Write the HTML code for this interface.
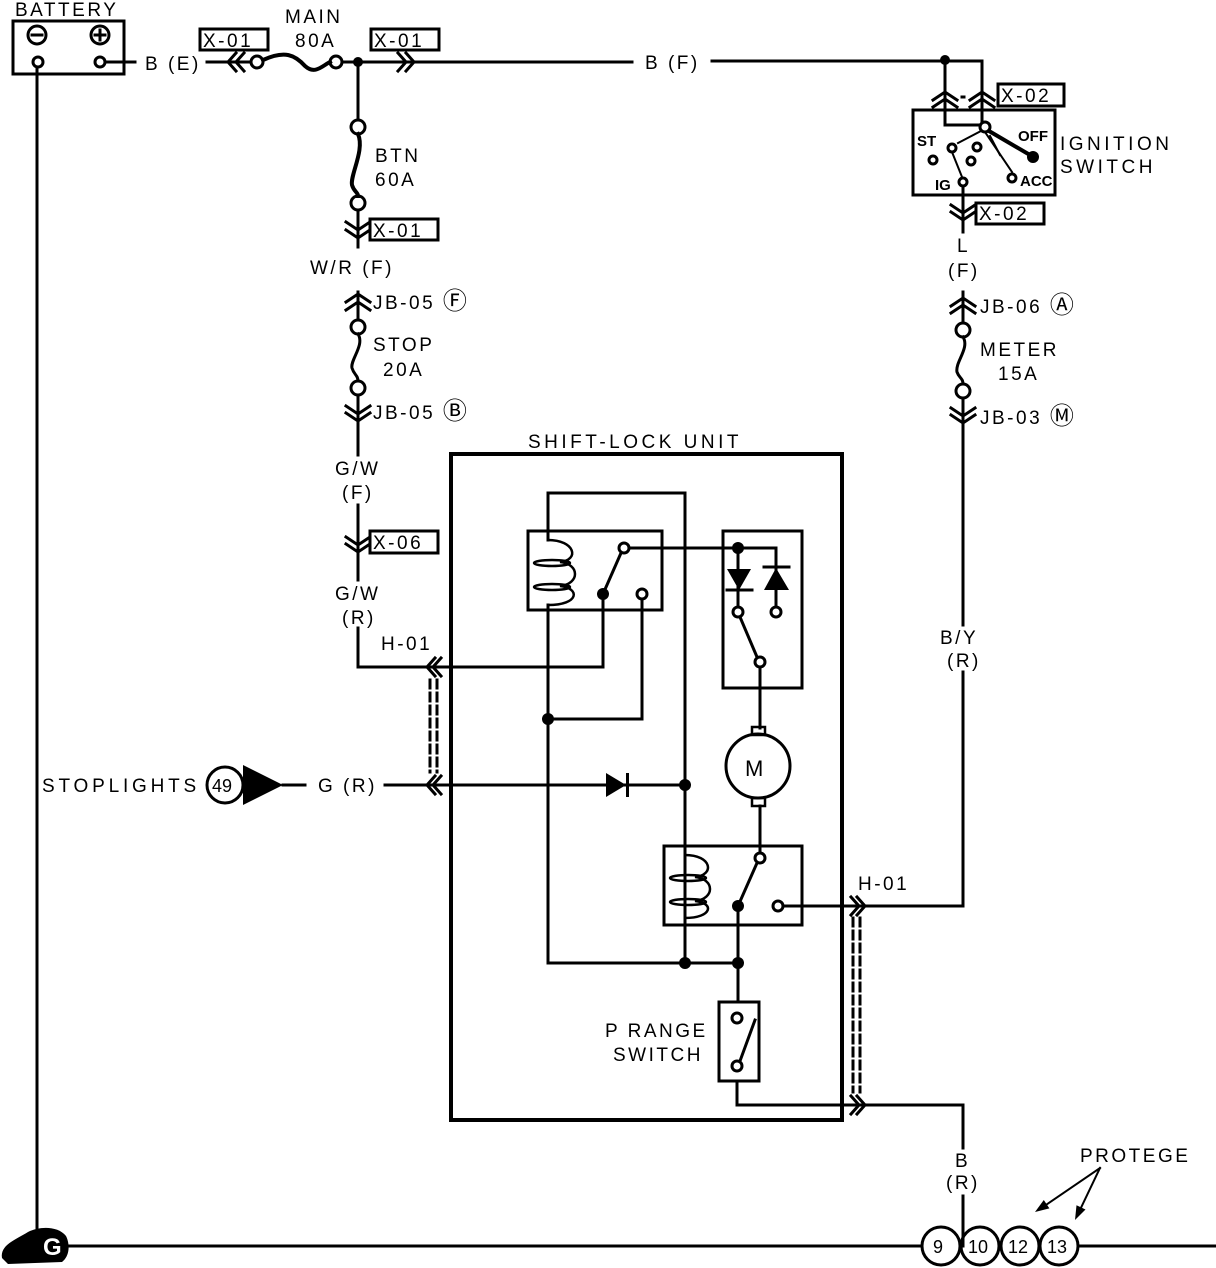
<!DOCTYPE html>
<html><head><meta charset="utf-8"><style>
html,body{margin:0;padding:0;background:#fff}
svg{display:block}
text{font-family:"Liberation Sans",sans-serif;font-size:19px;fill:#000;letter-spacing:2.5px}
.c{font-size:24px;letter-spacing:0}
</style></head><body>
<svg width="1216" height="1268" viewBox="0 0 1216 1268" xmlns="http://www.w3.org/2000/svg">
<g stroke="#000" stroke-width="3" fill="none" stroke-linecap="square">
<rect x="13" y="21" width="111" height="53"/>
<circle cx="37" cy="35" r="9"/><line x1="32" y1="35" x2="42" y2="35"/>
<circle cx="100" cy="35" r="9"/><line x1="95" y1="35" x2="105" y2="35"/><line x1="100" y1="30" x2="100" y2="40"/>
<circle cx="38" cy="62" r="5"/><circle cx="100" cy="62" r="5"/>
<line x1="37" y1="67" x2="37" y2="1240"/>
<line x1="105" y1="62" x2="135" y2="62"/>
<line x1="207" y1="62" x2="251" y2="62"/>
<path d="M236 53 L228 62 L236 71 M244 53 L236 62 L244 71"/>
<circle cx="257" cy="62" r="6"/>
<path d="M263 60 C285 50,295 55,305 66 C315 75,322 66,330 62" stroke-width="4"/>
<circle cx="336" cy="62" r="6"/>
<line x1="342" y1="62" x2="632" y2="62"/>
<path d="M398 53 L406 62 L398 71 M406 53 L414 62 L406 71"/>
<line x1="712" y1="61" x2="945" y2="61"/>
<line x1="358" y1="62" x2="358" y2="120"/>
<circle cx="358" cy="127" r="7"/>
<path d="M358 134 C365 150,350 175,352 185 C354 192,358 192,358 196" stroke-width="4"/>
<circle cx="358" cy="203" r="7"/>
<line x1="358" y1="210" x2="358" y2="247"/>
<path d="M346 222 L358 230 L370 222 M346 230 L358 238 L370 230"/>
<line x1="358" y1="292" x2="358" y2="320"/>
<path d="M346 302 L358 294 L370 302 M346 310 L358 302 L370 310"/>
<circle cx="358" cy="327" r="7"/>
<path d="M358 334 C365 345,350 360,352 368 C354 375,358 375,358 381" stroke-width="3"/>
<circle cx="358" cy="388" r="7"/>
<line x1="358" y1="395" x2="358" y2="455"/>
<path d="M346 406 L358 414 L370 406 M346 413 L358 421 L370 413"/>
<line x1="358" y1="505" x2="358" y2="580"/>
<path d="M346 537 L358 545 L370 537 M346 544 L358 552 L370 544"/>
<line x1="358" y1="628" x2="358" y2="667"/>
<line x1="358" y1="667" x2="603" y2="667"/>
<path d="M435 658 L427 667 L435 676 M441 658 L433 667 L441 676"/>
<line x1="603" y1="667" x2="603" y2="594"/>
<line x1="430" y1="680" x2="430" y2="772" stroke-dasharray="8,5"/>
<line x1="437" y1="680" x2="437" y2="772" stroke-dasharray="8,5"/>
<circle cx="225" cy="785" r="18"/>
<line x1="283" y1="785" x2="305" y2="785"/>
<line x1="385" y1="785" x2="685" y2="785"/>
<path d="M435 776 L427 785 L435 794 M441 776 L433 785 L441 794"/>
<rect x="451" y="454" width="391" height="666" stroke-width="4"/>
<rect x="528" y="531" width="134" height="79"/>
<polyline points="548,540 548,493 685,493 685,963"/>
<path d="M548 540 C575 540,580 560,560 562 C580 564,580 584,560 586 C580 588,580 605,548 605" stroke-width="2.5"/>
<ellipse cx="552" cy="563" rx="18" ry="3" stroke-width="2.5"/>
<ellipse cx="552" cy="587" rx="18" ry="3" stroke-width="2.5"/>
<line x1="548" y1="605" x2="548" y2="963"/>
<line x1="603" y1="594" x2="621" y2="553"/>
<circle cx="624" cy="548" r="5"/>
<circle cx="642" cy="594" r="5"/>
<polyline points="642,599 642,719 548,719"/>
<line x1="629" y1="548" x2="776" y2="548"/>
<rect x="723" y="531" width="79" height="157"/>
<line x1="738" y1="548" x2="738" y2="606"/>
<line x1="776" y1="548" x2="776" y2="606"/>
<circle cx="738" cy="612" r="5"/><circle cx="776" cy="612" r="5"/>
<line x1="740" y1="617" x2="757" y2="657"/>
<circle cx="760" cy="662" r="5"/>
<line x1="760" y1="667" x2="760" y2="728"/>
<line x1="727" y1="590" x2="752" y2="590"/>
<line x1="764" y1="567" x2="789" y2="567"/>
<circle cx="758" cy="766" r="32"/>
<rect x="752" y="727" width="13" height="8" stroke-width="2.5"/>
<rect x="752" y="798" width="13" height="8" stroke-width="2.5"/>
<line x1="760" y1="806" x2="760" y2="853"/>
<rect x="664" y="846" width="138" height="79"/>
<path d="M685 855 C712 855,715 875,695 877 C715 879,715 899,695 901 C715 903,712 918,685 918" stroke-width="2.5"/>
<ellipse cx="688" cy="878" rx="18" ry="3" stroke-width="2.5"/>
<ellipse cx="688" cy="902" rx="18" ry="3" stroke-width="2.5"/>
<line x1="685" y1="918" x2="685" y2="963"/>
<circle cx="760" cy="858" r="5"/>
<line x1="738" y1="906" x2="757" y2="863"/>
<circle cx="778" cy="906" r="5"/>
<line x1="783" y1="906" x2="963" y2="906"/>
<path d="M857 897 L865 906 L857 915 M851 897 L859 906 L851 915"/>
<line x1="548" y1="963" x2="738" y2="963"/>
<line x1="738" y1="906" x2="738" y2="1002"/>
<rect x="719" y="1002" width="40" height="79"/>
<circle cx="737" cy="1018" r="5"/><circle cx="737" cy="1066" r="5"/>
<line x1="740" y1="1061" x2="755" y2="1020"/>
<polyline points="737,1081 737,1105 963,1105 963,1148"/>
<path d="M857 1096 L865 1105 L857 1114 M851 1096 L859 1105 L851 1114"/>
<line x1="853" y1="918" x2="853" y2="1092" stroke-dasharray="8,5"/>
<line x1="860" y1="918" x2="860" y2="1092" stroke-dasharray="8,5"/>
<polyline points="945,61 982,61 982,125"/>
<polyline points="945,61 945,125 980,125"/>
<path d="M933 100 L945 92 L957 100 M933 107 L945 99 L957 107"/>
<path d="M970 100 L982 92 L994 100 M970 107 L982 99 L994 107"/>
<line x1="962" y1="97" x2="966" y2="97" stroke-dasharray="2,2"/>
<rect x="913" y="110" width="142" height="85"/>
<circle cx="985" cy="127" r="5" fill="#fff"/>
<line x1="989" y1="131" x2="1030" y2="155" stroke-width="4"/>
<line x1="981" y1="131" x2="958" y2="143" stroke-width="2"/>
<line x1="985" y1="132" x2="1012" y2="172" stroke-width="2"/>
<line x1="990" y1="136" x2="1000" y2="155" stroke-width="2"/>
<circle cx="952" cy="148" r="4"/><circle cx="933" cy="160" r="4"/>
<circle cx="971" cy="161" r="4"/><circle cx="977" cy="147" r="4"/>
<circle cx="1012" cy="178" r="4"/><circle cx="963" cy="182" r="4"/>
<line x1="952" y1="152" x2="962" y2="177" stroke-width="2"/>
<line x1="963" y1="186" x2="963" y2="232"/>
<path d="M951 205 L963 213 L975 205 M951 212 L963 220 L975 212"/>
<line x1="963" y1="292" x2="963" y2="323"/>
<path d="M951 306 L963 298 L975 306 M951 313 L963 305 L975 313"/>
<circle cx="963" cy="330" r="7"/>
<path d="M963 337 C970 348,955 362,957 372 C959 378,963 378,963 384" stroke-width="3"/>
<circle cx="963" cy="391" r="7"/>
<line x1="963" y1="398" x2="963" y2="625"/>
<path d="M951 408 L963 416 L975 408 M951 415 L963 423 L975 415"/>
<line x1="963" y1="672" x2="963" y2="906"/>
<line x1="963" y1="1196" x2="963" y2="1246"/>
<line x1="55" y1="1246" x2="922" y2="1246"/>
<line x1="1078" y1="1246" x2="1216" y2="1246"/>
<circle cx="941" cy="1246" r="19"/><circle cx="980" cy="1246" r="19"/>
<circle cx="1020" cy="1246" r="19"/><circle cx="1059" cy="1246" r="19"/>
<line x1="1100" y1="1168" x2="1040" y2="1209" stroke-width="2"/>
<line x1="1100" y1="1168" x2="1078" y2="1214" stroke-width="2"/>
</g>
<g stroke="#000" stroke-width="3" fill="#fff">
<rect x="200" y="29" width="68" height="21"/><rect x="371" y="29" width="68" height="21"/>
<rect x="370" y="219" width="68" height="21"/><rect x="370" y="531" width="68" height="22"/>
<rect x="998" y="84" width="66" height="22"/><rect x="976" y="203" width="68" height="21"/>
</g>
<g fill="#000">
<circle cx="358" cy="62" r="5"/><circle cx="945" cy="60" r="5"/>
<circle cx="603" cy="594" r="6"/><circle cx="548" cy="719" r="6"/>
<circle cx="685" cy="785" r="6"/><circle cx="738" cy="548" r="6"/>
<circle cx="738" cy="906" r="6"/><circle cx="685" cy="963" r="6"/><circle cx="738" cy="963" r="6"/>
<circle cx="1033" cy="157" r="6"/>
<polygon points="243,765 243,805 283,785"/>
<polygon points="606,773 606,797 626,785"/><rect x="626" y="773" width="3" height="24"/>
<polygon points="727,569 751,569 739,590"/>
<polygon points="764,590 789,590 776,568"/>
<polygon points="1035,1212 1049.4,1208.4 1043.8,1200"/>
<polygon points="1075,1220 1085.5,1209.5 1076.5,1205.3"/>
<path d="M2 1258 C0 1245,15 1240,28 1232 C40 1226,58 1226,66 1236 C70 1244,70 1256,62 1262 L8 1264 Z"/>
</g>
<text x="43" y="1255" style="fill:#fff;font-size:24px;font-weight:bold;letter-spacing:0">G</text>
<text x="15" y="16">BATTERY</text>
<text x="145" y="70">B (E)</text>
<text x="285" y="23">MAIN</text>
<text x="295" y="47">80A</text>
<text x="203" y="47">X-01</text><text x="374" y="47">X-01</text>
<text x="645" y="69">B (F)</text>
<text x="375" y="162">BTN</text><text x="375" y="186">60A</text>
<text x="373" y="237">X-01</text>
<text x="310" y="274">W/R (F)</text>
<text x="373" y="309">JB-05 <tspan class="c">Ⓕ</tspan></text>
<text x="373" y="351">STOP</text><text x="383" y="376">20A</text>
<text x="373" y="419">JB-05 <tspan class="c">Ⓑ</tspan></text>
<text x="335" y="475">G/W</text><text x="342" y="499">(F)</text>
<text x="373" y="549">X-06</text>
<text x="335" y="600">G/W</text><text x="342" y="624">(R)</text>
<text x="381" y="650">H-01</text>
<text x="42" y="792" style="letter-spacing:3.8px">STOPLIGHTS</text>
<text x="212" y="792" style="font-size:18px;letter-spacing:0">49</text>
<text x="318" y="792">G (R)</text>
<text x="528" y="448" style="letter-spacing:3.5px">SHIFT-LOCK UNIT</text>
<text x="745" y="776" style="font-size:22px;letter-spacing:0">M</text>
<text x="858" y="890">H-01</text>
<text x="605" y="1037">P RANGE</text><text x="613" y="1061">SWITCH</text>
<text x="917" y="146" style="font-size:15px;font-weight:bold;letter-spacing:0">ST</text>
<text x="1018" y="141" style="font-size:15px;font-weight:bold;letter-spacing:0">OFF</text>
<text x="935" y="190" style="font-size:15px;font-weight:bold;letter-spacing:0">IG</text>
<text x="1020" y="186" style="font-size:15px;font-weight:bold;letter-spacing:0">ACC</text>
<text x="1001" y="102">X-02</text><text x="979" y="220">X-02</text>
<text x="1060" y="150" style="letter-spacing:3.5px">IGNITION</text><text x="1060" y="173" style="letter-spacing:3.5px">SWITCH</text>
<text x="957" y="252">L</text><text x="948" y="277">(F)</text>
<text x="980" y="313">JB-06 <tspan class="c">Ⓐ</tspan></text>
<text x="980" y="356">METER</text><text x="998" y="380">15A</text>
<text x="980" y="424">JB-03 <tspan class="c">Ⓜ</tspan></text>
<text x="940" y="644">B/Y</text><text x="947" y="667">(R)</text>
<text x="955" y="1167">B</text><text x="946" y="1189">(R)</text>
<text x="1080" y="1162">PROTEGE</text>
<text x="933" y="1253" style="font-size:18px;letter-spacing:0">9</text>
<text x="968" y="1253" style="font-size:18px;letter-spacing:0">10</text>
<text x="1008" y="1253" style="font-size:18px;letter-spacing:0">12</text>
<text x="1047" y="1253" style="font-size:18px;letter-spacing:0">13</text>
</svg>
</body></html>
